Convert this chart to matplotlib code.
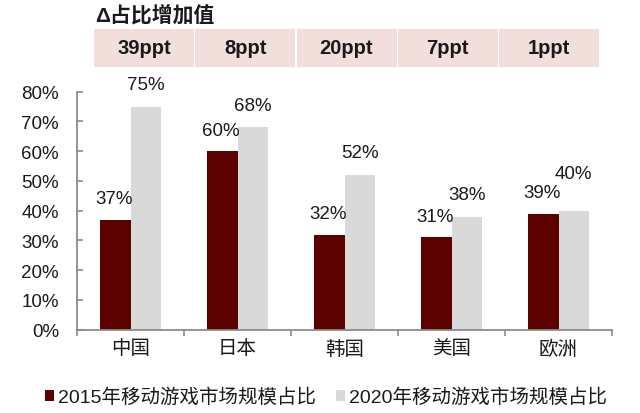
import matplotlib
matplotlib.use("Agg")
import matplotlib.pyplot as plt
from matplotlib.patches import Rectangle
import numpy as np

plt.rcParams['font.family'] = ['Liberation Sans', 'Noto Sans CJK SC', 'DejaVu Sans']

categories = ['中国', '日本', '韩国', '美国', '欧洲']
share_2015 = [37, 60, 32, 31, 39]
share_2020 = [75, 68, 52, 38, 40]
delta_labels = ['39ppt', '8ppt', '20ppt', '7ppt', '1ppt']
series_names = ['2015年移动游戏市场规模占比', '2020年移动游戏市场规模占比']
header_title = 'Δ占比增加值'
yticks = [0, 10, 20, 30, 40, 50, 60, 70, 80]

c2015 = '#5C0000'
c2020 = '#D9D9D9'
box_color = '#F2DFDB'
txt = '#1a1a1a'

W, H = 640, 414
fig = plt.figure(figsize=(W / 100, H / 100), dpi=100)
ax = fig.add_axes([77 / W, 1 - 330.7 / H, (612 - 77) / W, (330.7 - 92.7) / H])

x = np.arange(len(categories))
bw = 0.284
b1 = ax.bar(x - bw / 2, share_2015, bw, color=c2015, label=series_names[0], zorder=2)
b2 = ax.bar(x + bw / 2, share_2020, bw, color=c2020, label=series_names[1], zorder=2)

ax.set_xlim(-0.5, len(categories) - 0.5)
ax.set_ylim(0, 80)
ax.set_yticks(yticks)
ax.set_yticklabels([f'{v}%' for v in yticks], fontsize=13.5, color=txt)
ax.set_xticks(np.arange(len(categories) + 1) - 0.5, minor=False)
ax.set_xticklabels([''] * (len(categories) + 1))
ax.set_xticks(x, minor=True)
ax.set_xticklabels(categories, minor=True, fontsize=14, color=txt)
ax.tick_params(axis='x', which='major', direction='out', length=4, width=1.2, color='#8c8c8c')
ax.tick_params(axis='x', which='minor', length=0, pad=7)
ax.tick_params(axis='y', direction='in', length=4, width=1.2, color='#8c8c8c', pad=13)

for s in ['top', 'right']:
    ax.spines[s].set_visible(False)
for s in ['left', 'bottom']:
    ax.spines[s].set_color('#8c8c8c')
    ax.spines[s].set_linewidth(1.3)

for i, v in enumerate(share_2015):
    ax.annotate(f'{v}%', (x[i] - bw / 2, v), xytext=(-1, 15), textcoords='offset points',
                ha='center', va='center', fontsize=13.5, color=txt)
for i, v in enumerate(share_2020):
    dy = 27 if i == len(share_2020) - 1 else 16
    ax.annotate(f'{v}%', (x[i] + bw / 2, v), xytext=(0, dy), textcoords='offset points',
                ha='center', va='center', fontsize=13.5, color=txt)

# header
fig.text(95 / W, 1 - 15 / H, header_title, fontsize=15, fontweight='bold', color=txt,
         ha='left', va='center')
box_w = 100
for i, lab in enumerate(delta_labels):
    x0 = 94 + i * 101.25
    fig.add_artist(Rectangle((x0 / W, 1 - 68 / H), box_w / W, 38 / H,
                             transform=fig.transFigure, facecolor=box_color,
                             edgecolor='none'))
    fig.text((x0 + box_w / 2) / W, 1 - 49 / H, lab, fontsize=14.5, fontweight='bold',
             color=txt, ha='center', va='center')

fig.legend(handles=[b1, b2], loc='center', bbox_to_anchor=(326 / W, 1 - 398 / H),
           ncol=2, frameon=False, fontsize=14, handlelength=0.5, handleheight=0.5,
           handletextpad=0.2, columnspacing=1.0, borderaxespad=0, labelcolor=txt)

fig.savefig('out.png', dpi=100)
